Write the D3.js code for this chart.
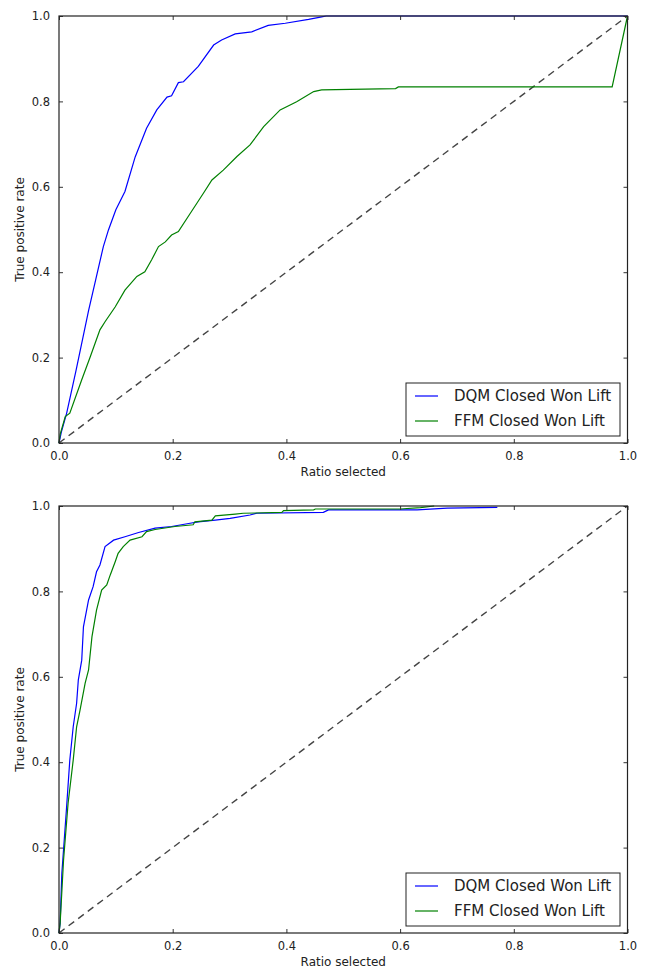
<!DOCTYPE html>
<html lang="en">
<head>
<meta charset="UTF-8">
<title>Lift curves</title>
<script src="https://cdn.jsdelivr.net/npm/d3@7/dist/d3.min.js"></script>
<style>
	body { margin: 0; background: #fff; }
	text { font-family: "DejaVu Sans", sans-serif; fill: #222; }
</style>
</head>
<body>
<svg id="chart" width="646" height="971"></svg>
<script>
	// series labels
	const seriesNames = ["DQM Closed Won Lift", "FFM Closed Won Lift"];
	const seriesColors = ["#0000ff", "#008000"];
	const tickValues = [0, 0.2, 0.4, 0.6, 0.8, 1.0];
	const xTitle = "Ratio selected";
	const yTitle = "True positive rate";

	// upper panel, [ratio selected, true positive rate]
	const topDqm = [[0,0],[0.004,0.025],[0.0135,0.07],[0.03,0.17],[0.052,0.31],[0.065,0.385],[0.078,0.46],[0.087,0.499],
		[0.1,0.546],[0.116,0.589],[0.134,0.67],[0.154,0.737],[0.172,0.78],[0.19,0.81],[0.198,0.813],[0.21,0.844],
		[0.219,0.846],[0.245,0.882],[0.272,0.932],[0.286,0.944],[0.31,0.958],[0.339,0.963],[0.368,0.978],
		[0.398,0.983],[0.439,0.992],[0.462,0.998],[0.47,1.0],[1.0,1.0]];
	const topFfm = [[0,0],[0.002,0.02],[0.011,0.062],[0.019,0.07],[0.04,0.148],[0.055,0.202],[0.072,0.265],[0.081,0.284],
		[0.099,0.319],[0.116,0.358],[0.137,0.39],[0.151,0.401],[0.163,0.429],[0.175,0.46],[0.187,0.471],[0.198,0.487],
		[0.21,0.495],[0.231,0.538],[0.254,0.585],[0.269,0.616],[0.289,0.639],[0.313,0.671],[0.336,0.698],
		[0.36,0.741],[0.389,0.78],[0.418,0.799],[0.448,0.823],[0.462,0.827],[0.512,0.828],[0.592,0.830],
		[0.597,0.834],[0.973,0.834],[1.0,1.0]];

	// lower panel
	const bottomDqm = [[0,0],[0.002,0.023],[0.005,0.14],[0.013,0.288],[0.019,0.405],[0.025,0.483],[0.031,0.538],
		[0.034,0.593],[0.04,0.639],[0.043,0.717],[0.052,0.78],[0.06,0.811],[0.066,0.846],[0.072,0.862],[0.081,0.905],
		[0.096,0.92],[0.116,0.928],[0.14,0.938],[0.169,0.948],[0.198,0.952],[0.228,0.959],[0.245,0.963],
		[0.275,0.967],[0.301,0.971],[0.336,0.979],[0.348,0.983],[0.465,0.985],[0.474,0.991],[0.63,0.991],
		[0.683,0.995],[0.771,0.997]];
	const bottomFfm = [[0,0],[0.002,0.023],[0.008,0.171],[0.016,0.304],[0.025,0.405],[0.031,0.483],[0.037,0.522],
		[0.046,0.585],[0.052,0.616],[0.058,0.694],[0.066,0.756],[0.075,0.803],[0.084,0.815],[0.09,0.838],
		[0.099,0.87],[0.104,0.889],[0.113,0.905],[0.125,0.92],[0.146,0.928],[0.154,0.94],[0.169,0.945],
		[0.204,0.952],[0.236,0.956],[0.239,0.963],[0.269,0.967],[0.275,0.977],[0.31,0.981],[0.324,0.983],
		[0.392,0.985],[0.395,0.989],[0.448,0.991],[0.451,0.993],[0.6,0.993],[0.636,0.996],[0.66,1.0]];
	const diagonal = [[0,0],[1,1]];

	const svg = d3.select("#chart");
	const left = 59, right = 627.5, plotH = 427;

	function panel(top, series) {
		const x = d3.scaleLinear().domain([0, 1]).range([left, right]);
		const y = d3.scaleLinear().domain([0, 1]).range([top + plotH, top]);
		const g = svg.append("g");

		const line = d3.line().x(d => x(d[0])).y(d => y(d[1]));

		g.append("path")
			.attr("d", line(diagonal))
			.style("fill", "none")
			.style("stroke", "#444")
			.style("stroke-width", 1.4)
			.style("stroke-dasharray", "7,5");

		series.forEach((s, i) => {
			g.append("path")
				.attr("d", line(s))
				.style("fill", "none")
				.style("stroke", seriesColors[i])
				.style("stroke-width", 1.2);
		});

		// ticks on all four sides, pointing in
		const axes = [
			[d3.axisBottom(x), 0, top + plotH, true],
			[d3.axisTop(x), 0, top, false],
			[d3.axisLeft(y), left, 0, true],
			[d3.axisRight(y), right, 0, false]
		];
		axes.forEach(([ax, tx, ty, labels]) => {
			const a = g.append("g")
				.attr("transform", `translate(${tx},${ty})`)
				.call(ax.tickValues(tickValues).tickFormat(d3.format(".1f")).tickSizeInner(-4).tickSizeOuter(0).tickPadding(9));
			a.select(".domain").remove();
			a.selectAll("line").attr("stroke", "#333");
			a.selectAll("text").style("font-size", "11.5px").style("fill", "#222");
			if (!labels) a.selectAll("text").remove();
		});

		g.append("rect")
			.attr("x", left).attr("y", top)
			.attr("width", right - left).attr("height", plotH)
			.style("fill", "none")
			.style("stroke", "#222")
			.style("stroke-width", 1.2);

		g.append("text")
			.attr("x", (left + right) / 2)
			.attr("y", top + plotH + 33)
			.attr("text-anchor", "middle")
			.style("font-size", "12px")
			.text(xTitle);

		g.append("text")
			.attr("transform", `translate(24,${top + plotH / 2}) rotate(-90)`)
			.attr("text-anchor", "middle")
			.style("font-size", "12px")
			.text(yTitle);

		// legend
		const lg = g.append("g").attr("transform", `translate(406,${top + plotH - 60})`);
		lg.append("rect")
			.attr("width", 214).attr("height", 53)
			.style("fill", "#fff")
			.style("stroke", "#222")
			.style("stroke-width", 1);
		seriesNames.forEach((name, i) => {
			const yy = 13 + i * 25;
			lg.append("line")
				.attr("x1", 9).attr("x2", 32).attr("y1", yy).attr("y2", yy)
				.style("stroke", seriesColors[i]).style("stroke-width", 1.2);
			lg.append("text")
				.attr("x", 48).attr("y", yy + 5)
				.style("font-size", "15px")
				.text(name);
		});
	}

	panel(16, [topDqm, topFfm]);
	panel(506, [bottomDqm, bottomFfm]);
</script>
</body>
</html>
